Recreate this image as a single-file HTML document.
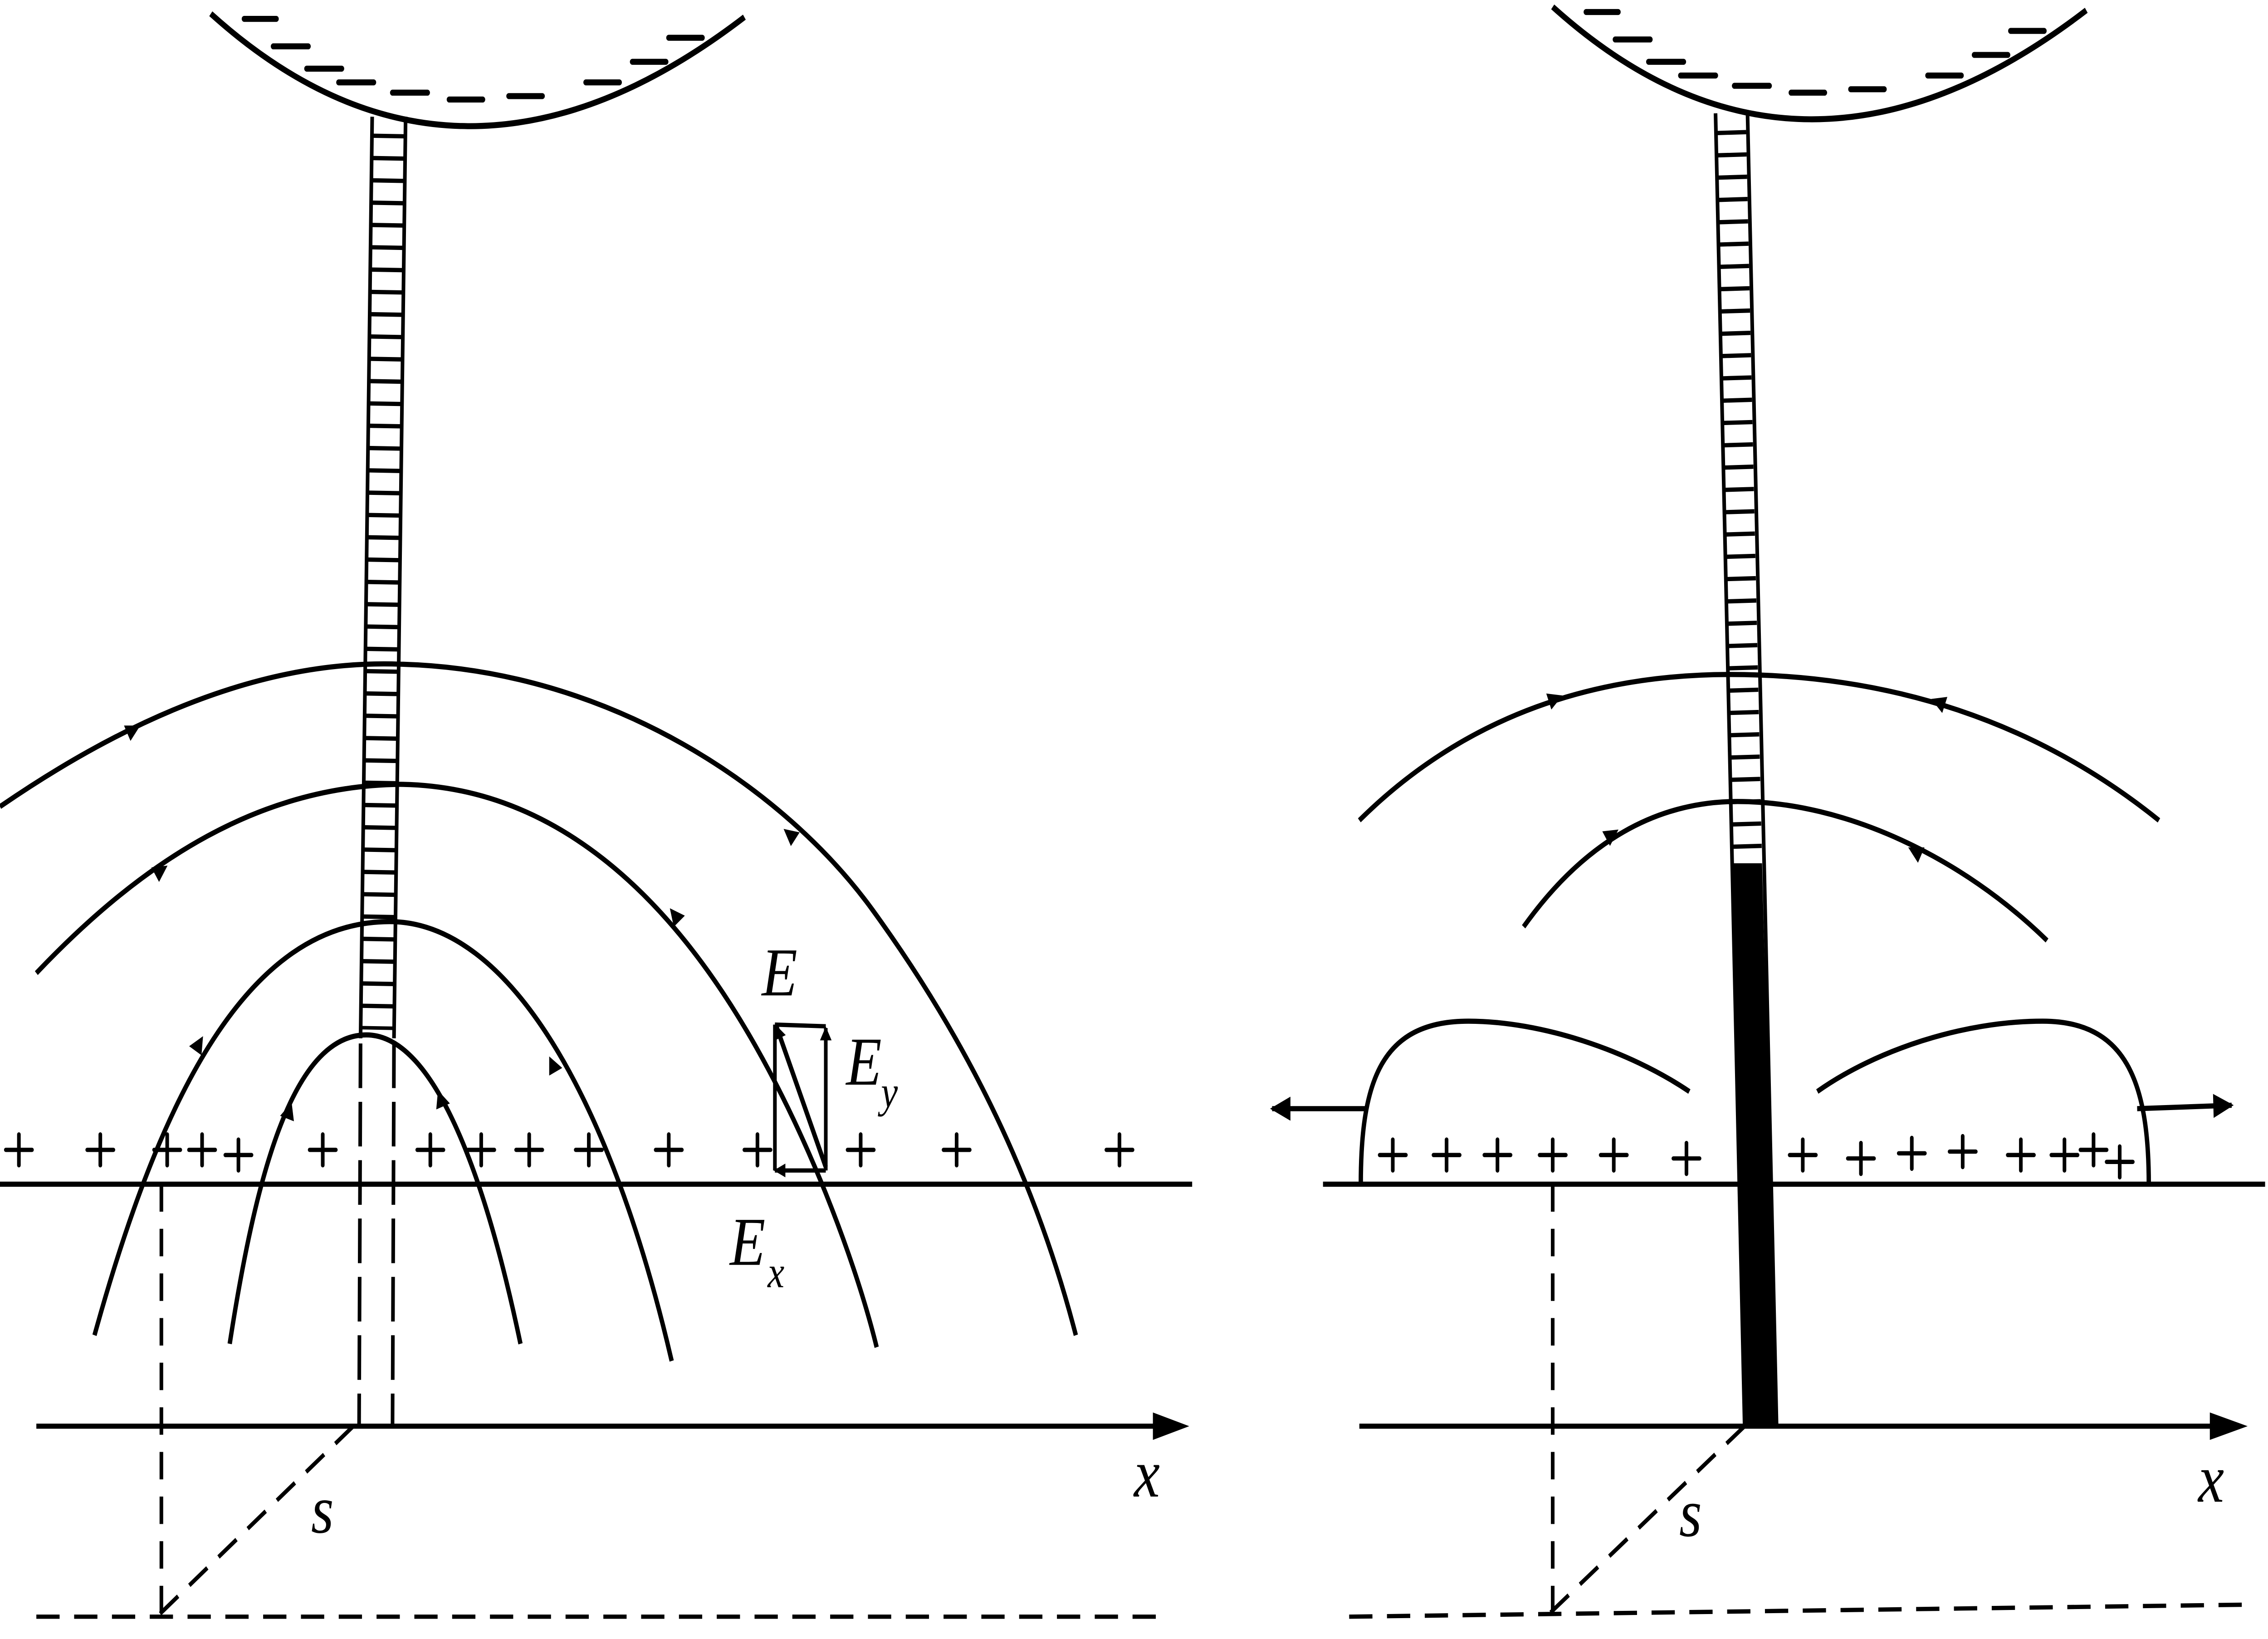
<!DOCTYPE html>
<html><head><meta charset="utf-8"><style>
html,body{margin:0;padding:0;background:#fff;overflow:hidden;width:100%;height:100%;}
svg{display:block;position:fixed;left:0;top:0;width:100vw;height:100vh;}
text{font-family:"Liberation Serif",serif;font-style:italic;fill:#000;}
</style></head><body>
<svg viewBox="0 0 1560 955" preserveAspectRatio="none" xmlns="http://www.w3.org/2000/svg">
<defs>
<marker id="ah" viewBox="0 0 10 10" refX="5" refY="5" markerWidth="12" markerHeight="10" markerUnits="userSpaceOnUse" orient="auto"><path d="M0,0 L10,5 L0,10 Z" fill="#000"/></marker>
<marker id="ah2" viewBox="0 0 10 10" refX="9" refY="5" markerWidth="10" markerHeight="8" markerUnits="userSpaceOnUse" orient="auto"><path d="M0,0 L10,5 L0,10 Z" fill="#000"/></marker>
<marker id="ah3" viewBox="0 0 10 10" refX="9" refY="5" markerWidth="24" markerHeight="14" markerUnits="userSpaceOnUse" orient="auto"><path d="M0,0 L10,5 L0,10 Z" fill="#000"/></marker>
<g id="cloud">
<path d="M145,8 Q315,138 512,10" fill="none" stroke="#000" stroke-width="3.5"/>
<g stroke="#000" stroke-width="3.5" stroke-linecap="round">
<line x1="168" y1="11" x2="190" y2="11"/>
<line x1="188" y1="27" x2="212" y2="27"/>
<line x1="211" y1="40" x2="235" y2="40"/>
<line x1="233" y1="48" x2="257" y2="48"/>
<line x1="270" y1="54" x2="294" y2="54"/>
<line x1="309" y1="58" x2="332" y2="58"/>
<line x1="350" y1="56" x2="373" y2="56"/>
<line x1="403" y1="48" x2="426" y2="48"/>
<line x1="435" y1="36" x2="458" y2="36"/>
<line x1="460" y1="22" x2="483" y2="22"/>
</g>
</g>
</defs>

<!-- LEFT PANEL -->
<use href="#cloud"/>
<g stroke="#000" stroke-width="2.5" fill="none">
<line x1="256" y1="68" x2="248" y2="605"/>
<line x1="279" y1="68" x2="271" y2="605"/>
</g>
<line x1="267" y1="78" x2="259" y2="600" stroke="#000" stroke-width="22" stroke-dasharray="2.5 10.5"/>
<g stroke="#000" stroke-width="2.5" stroke-dasharray="26 8">
<line x1="248" y1="608" x2="247" y2="830"/>
<line x1="271" y1="608" x2="270" y2="830"/>
</g>
<line x1="0" y1="690" x2="820" y2="690" stroke="#000" stroke-width="3"/>
<line x1="25" y1="831" x2="800" y2="831" stroke="#000" stroke-width="3"/>
<path d="M793,823 L818,831 L793,839 Z" fill="#000"/>
<text x="780" y="872" font-size="40">x</text>
<text x="214" y="893" font-size="40">s</text>
<g stroke="#000" stroke-width="2.5" stroke-dasharray="16 10" fill="none">
<line x1="243" y1="831" x2="108" y2="942"/>
<line x1="111" y1="690" x2="111" y2="942"/>
<line x1="25" y1="942" x2="805" y2="942"/>
</g>
<g stroke="#000" stroke-width="2.5" stroke-linecap="round">
<path d="M4,670h18M13,661v18 M60,670h18M69,661v18 M106,670h18M115,661v18 M130,670h18M139,661v18 M155,673h18M164,664v18 M213,670h18M222,661v18 M287,670h18M296,661v18 M322,670h18M331,661v18 M355,670h18M364,661v18 M396,670h18M405,661v18 M451,670h18M460,661v18 M512,670h18M521,661v18 M583,670h18M592,661v18 M649,670h18M658,661v18 M761,670h18M770,661v18"/>
</g>
<g stroke="#000" stroke-width="3" fill="none">
<path d="M0,470 C120,400 210,385 275,387 C420,390 540,460 600,530 C660,600 710,680 740,778"/>
<path d="M25,567 C100,500 180,458 275,457 C380,458 460,520 520,610 C560,670 590,740 603,785"/>
<path d="M65,778 C110,640 170,537 268,537 C350,537 420,640 462,793"/>
<path d="M158,783 C175,690 200,603 252,603 C300,603 335,690 358,783"/>
</g>
<g fill="none" stroke="none">
<path d="M84,429 L92,425" marker-end="url(#ah)"/>
<path d="M551,492 L543,486" marker-end="url(#ah)"/>
<path d="M103,512 L111,507" marker-end="url(#ah)"/>
<path d="M470,540 L464,533" marker-end="url(#ah)"/>
<path d="M132,616 L137,608" marker-end="url(#ah)"/>
<path d="M384,628 L380,620" marker-end="url(#ah)"/>
<path d="M196,656 L199,647" marker-end="url(#ah)"/>
<path d="M306,648 L303,640" marker-end="url(#ah)"/>
</g>
<g stroke="#000" stroke-width="2.5" fill="none">
<line x1="533" y1="597" x2="533" y2="682"/>
<line x1="533" y1="597" x2="568" y2="598"/>
<line x1="568" y1="682" x2="568" y2="599" marker-end="url(#ah2)"/>
<line x1="568" y1="682" x2="533" y2="682" marker-end="url(#ah2)"/>
<line x1="568" y1="680" x2="534" y2="598" stroke-width="3" marker-end="url(#ah2)"/>
</g>
<text x="524" y="580" font-size="40">E</text>
<text x="582" y="632" font-size="40">E</text>
<text x="606" y="645" font-size="26">y</text>
<text x="502" y="737" font-size="40">E</text>
<text x="528" y="750" font-size="26">x</text>

<!-- RIGHT PANEL -->
<use href="#cloud" transform="translate(923,-4)"/>
<g stroke="#000" stroke-width="2.5" fill="none">
<line x1="1180" y1="66" x2="1200" y2="831"/>
<line x1="1202" y1="66" x2="1222" y2="831"/>
</g>
<line x1="1191" y1="76" x2="1202" y2="503" stroke="#000" stroke-width="20" stroke-dasharray="2.5 10.5"/>
<polygon points="1192,503 1212,503 1222,831 1200,831" fill="#000"/>
<line x1="910" y1="690" x2="1558" y2="690" stroke="#000" stroke-width="3"/>
<line x1="935" y1="831" x2="1525" y2="831" stroke="#000" stroke-width="3"/>
<path d="M1520,823 L1546,831 L1520,839 Z" fill="#000"/>
<text x="1512" y="875" font-size="40">x</text>
<text x="1155" y="895" font-size="40">s</text>
<g stroke="#000" stroke-width="2.5" stroke-dasharray="16 10" fill="none">
<line x1="1200" y1="831" x2="1066" y2="940"/>
<line x1="1068" y1="690" x2="1068" y2="940"/>
<line x1="928" y1="942" x2="1545" y2="935"/>
</g>
<g stroke="#000" stroke-width="2.5" stroke-linecap="round">
<path d="M949,673h18M958,664v18 M986,673h18M995,664v18 M1021,673h18M1030,664v18 M1059,673h18M1068,664v18 M1101,673h18M1110,664v18 M1151,675h18M1160,666v18 M1231,673h18M1240,664v18 M1271,675h18M1280,666v18 M1306,672h18M1315,663v18 M1341,671h18M1350,662v18 M1381,673h18M1390,664v18 M1411,673h18M1420,664v18 M1431,670h18M1440,661v18 M1449,677h18M1458,668v18"/>
</g>
<g stroke="#000" stroke-width="3" fill="none">
<path d="M935,478 C1010,415 1100,393 1190,393 C1300,393 1400,420 1485,478"/>
<path d="M1048,540 C1090,490 1140,467 1195,467 C1270,467 1350,500 1408,548"/>
<path d="M936,690 C936,630 950,595 1010,595 C1060,595 1120,612 1162,636"/>
<path d="M1478,690 C1478,630 1462,595 1405,595 C1350,595 1290,612 1250,636"/>
<line x1="940" y1="646" x2="875" y2="646" marker-end="url(#ah3)"/>
<line x1="1470" y1="646" x2="1535" y2="644" marker-end="url(#ah3)"/>
</g>
<g fill="none" stroke="none">
<path d="M1062,410 L1070,407" marker-end="url(#ah)"/>
<path d="M1341,412 L1333,409" marker-end="url(#ah)"/>
<path d="M1101,491 L1109,486" marker-end="url(#ah)"/>
<path d="M1325,500 L1317,496" marker-end="url(#ah)"/>
</g>
</svg>
</body></html>
